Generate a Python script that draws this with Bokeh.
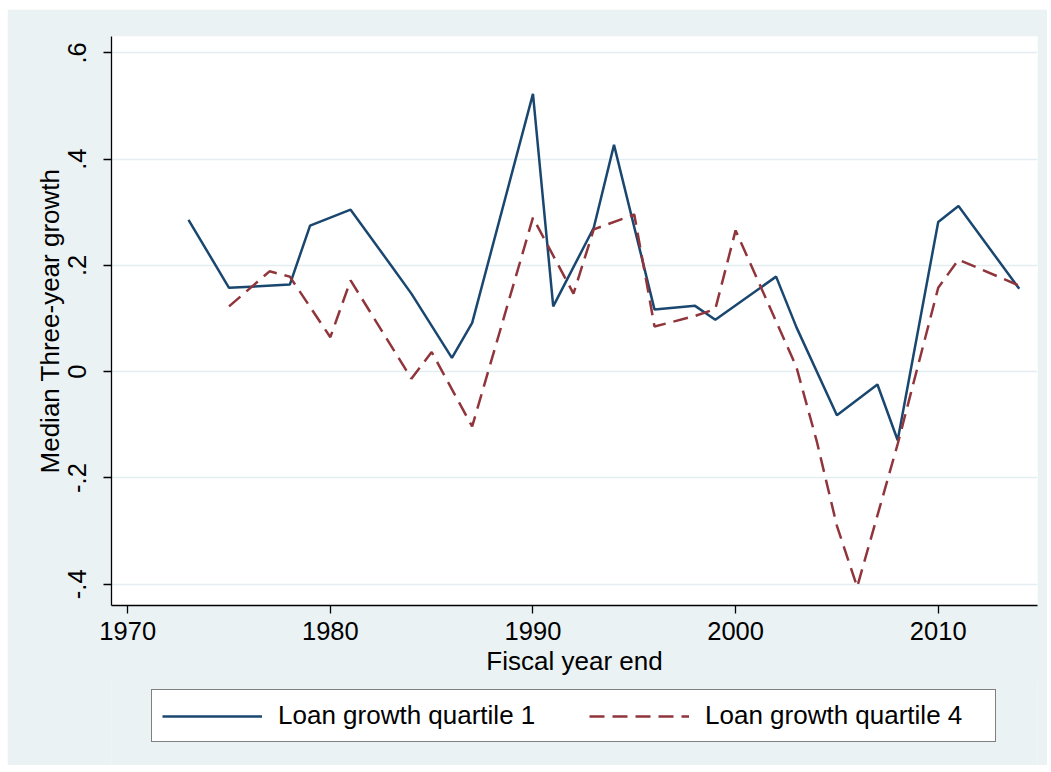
from bokeh.plotting import figure
from bokeh.layouts import column
from bokeh.models import (Range1d, FixedTicker, CustomJSTickFormatter, Legend, LegendItem)
from bokeh.embed import file_html
from bokeh.resources import INLINE

# Median three-year growth by fiscal year end
years_q1 = [1973, 1975, 1978, 1979, 1981, 1983, 1984, 1986, 1987, 1990, 1991,
            1993, 1994, 1996, 1998, 1999, 2002, 2003, 2005, 2007, 2008, 2010,
            2011, 2014]
growth_q1 = [0.286, 0.158, 0.164, 0.275, 0.305, 0.200, 0.147, 0.026, 0.092,
             0.523, 0.123, 0.271, 0.427, 0.117, 0.124, 0.098, 0.179, 0.084,
             -0.082, -0.024, -0.129, 0.282, 0.312, 0.156]

years_q4 = [1975, 1977, 1978, 1980, 1981, 1984, 1985, 1987, 1990, 1992, 1993,
            1995, 1996, 1998, 1999, 2000, 2003, 2004, 2005, 2006, 2008, 2010,
            2011, 2014]
growth_q4 = [0.123, 0.189, 0.179, 0.065, 0.172, -0.013, 0.037, -0.103, 0.290,
             0.147, 0.268, 0.296, 0.085, 0.105, 0.118, 0.266, 0.009, -0.130,
             -0.290, -0.405, -0.136, 0.158, 0.211, 0.162]

x_ticks = [1970, 1980, 1990, 2000, 2010]
y_ticks = [-0.4, -0.2, 0.0, 0.2, 0.4, 0.6]

series_labels = ["Loan growth quartile 1", "Loan growth quartile 4"]

BG = "#EAF2F3"
GRID = "#E4EDEF"
BLUE = "#1A476F"
RED = "#90353B"
FONT = "Liberation Sans"
LINE_W = 2.5
DASH = "15 8"

# ---- main chart ----
p = figure(width=1040, height=672, margin=(9, 4, 0, 7),
           output_backend="svg", toolbar_location=None,
           x_range=Range1d(1969.2, 2014.9), y_range=Range1d(-0.44, 0.631),
           min_border_left=104, min_border_right=10,
           min_border_top=27, min_border_bottom=76)

p.background_fill_color = "white"
p.border_fill_color = BG
p.outline_line_color = None

p.line(years_q1, growth_q1, line_color=BLUE, line_width=LINE_W)
p.line(years_q4, growth_q4, line_color=RED, line_width=LINE_W, line_dash=DASH)

# grid: horizontal only
p.xgrid.grid_line_color = None
p.ygrid.grid_line_color = GRID
p.ygrid.grid_line_width = 1.6

p.xaxis.ticker = FixedTicker(ticks=x_ticks)
p.yaxis.ticker = FixedTicker(ticks=y_ticks)
p.yaxis.formatter = CustomJSTickFormatter(code="""
    var s = tick.toFixed(1);
    if (s == "0.0" || s == "-0.0") { return "0"; }
    return s.replace("0.", ".");
""")

for ax in (p.xaxis[0], p.yaxis[0]):
    ax.axis_line_color = "black"
    ax.axis_line_width = 1.3
    ax.major_tick_line_color = "black"
    ax.major_tick_line_width = 1.3
    ax.major_tick_in = 0
    ax.major_tick_out = 8
    ax.minor_tick_line_color = None
    ax.major_label_text_font = FONT
    ax.major_label_text_font_size = "25.5px"
    ax.major_label_text_color = "black"
    ax.axis_label_text_font = FONT
    ax.axis_label_text_font_size = "26px"
    ax.axis_label_text_font_style = "normal"
    ax.axis_label_text_color = "black"

p.xaxis.axis_label = "Fiscal year end"
p.xaxis.major_label_standoff = 8
p.xaxis.axis_label_standoff = 3

p.yaxis.axis_label = "Median Three-year growth"
p.yaxis.major_label_orientation = "vertical"
p.yaxis.major_label_standoff = 17
p.yaxis.axis_label_standoff = 1

# ---- legend strip under the chart (frame lined up with the chart's) ----
lg = figure(width=1040, height=85, margin=(-1, 4, 7, 7),
            output_backend="svg", toolbar_location=None,
            x_axis_type=None, y_axis_type=None,
            x_range=Range1d(0, 1), y_range=Range1d(0, 1),
            min_border_left=104, min_border_right=10,
            min_border_top=0, min_border_bottom=0)
lg.background_fill_color = BG
lg.border_fill_color = BG
lg.outline_line_color = None
lg.grid.grid_line_color = None

# key renderers: styled like the chart's lines, placed outside the visible range
k1 = lg.line([-2, -1], [-2, -1], line_color=BLUE, line_width=LINE_W)
k4 = lg.line([-2, -1], [-2, -1], line_color=RED, line_width=LINE_W,
             line_dash=DASH)

legend = Legend(
    items=[LegendItem(label=series_labels[0], renderers=[k1]),
           LegendItem(label=series_labels[1], renderers=[k4])],
    orientation="horizontal", location=(40, 23),
    label_text_font=FONT, label_text_font_size="26px",
    label_text_color="black",
    glyph_width=100, glyph_height=20, label_standoff=16,
    label_width=280, spacing=31, padding=10, margin=0,
    border_line_color="black", border_line_width=1.3,
    background_fill_color="white", background_fill_alpha=1.0,
)
lg.add_layout(legend, "center")

layout = column(p, lg, spacing=0)

open("out.html", "w").write(file_html(layout, INLINE))
